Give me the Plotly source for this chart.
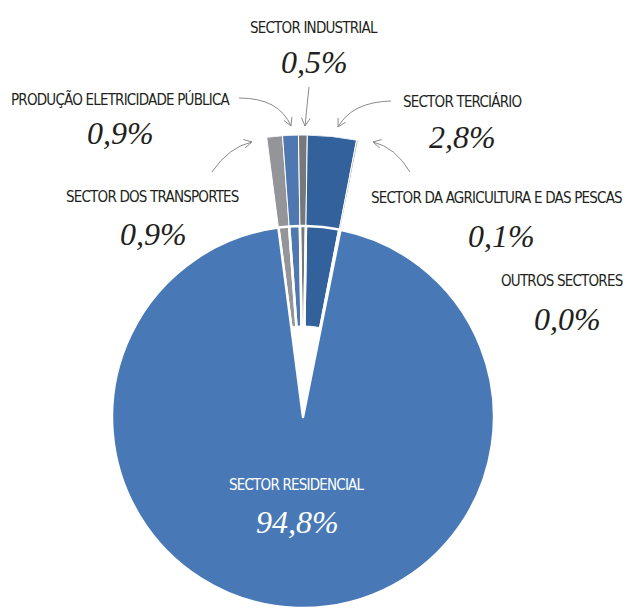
import math
import numpy as np
import plotly.graph_objects as go

# ---------------- data ----------------
categories = [
    "SECTOR DOS TRANSPORTES",
    "PRODUÇÃO ELETRICIDADE PÚBLICA",
    "SECTOR INDUSTRIAL",
    "SECTOR TERCIÁRIO",
    "SECTOR DA AGRICULTURA E DAS PESCAS",
    "OUTROS SECTORES",
    "SECTOR RESIDENCIAL",
]
values = [0.9, 0.9, 0.5, 2.8, 0.1, 0.0, 94.8]

# ---------------- style ----------------
W, H = 632, 610
OX, OY = 8, 8              # page (body) margin offset of the figure in the window
CX, CY = 303, 417          # pie centre (window px)
R = 191                    # pie radius (px)
PULL = 91                  # explode distance of small slices (px)
START = -7.4               # angle where the first slice starts (deg, clockwise from top)

colors = ["#939598", "#5078b0", "#77787b", "#33619b", "#b3b4b6", "#cfd0d2", "#4879b6"]
LABEL_FONT = "DejaVu Sans Condensed, DejaVu Sans, sans-serif"
PCT_FONT = "Liberation Serif, DejaVu Serif, serif"
TXT = "#231f20"
LABEL_SIZE = 15
PCT_SIZE = 32

# label positions (window px, centre of text)
label_pos = {
    "SECTOR DOS TRANSPORTES": ((152, 197), (153, 234)),
    "PRODUÇÃO ELETRICIDADE PÚBLICA": ((121, 99), (120, 133)),
    "SECTOR INDUSTRIAL": ((314, 28), (314, 62)),
    "SECTOR TERCIÁRIO": ((462, 102), (462, 137)),
    "SECTOR DA AGRICULTURA E DAS PESCAS": ((496, 198), (501, 236)),
    "OUTROS SECTORES": ((562, 281), (567, 319)),
    "SECTOR RESIDENCIAL": ((297, 485), (297, 522)),
}


def px(x, y):
    return (x - OX) / W, 1 - (y - OY) / H


fig = go.Figure()

# big pie: only the residential slice is visible
fcx, fcy = CX - OX, CY - OY
pie_colors = ["rgba(0,0,0,0)"] * (len(values) - 1) + [colors[-1]]
fig.add_trace(go.Pie(
    labels=categories, values=values, sort=False, direction="clockwise",
    rotation=START, textinfo="none", hoverinfo="label+percent",
    marker=dict(colors=pie_colors, line=dict(color="white", width=2.5)),
    domain=dict(x=[(fcx - R) / W, (fcx + R) / W], y=[(H - fcy - R) / H, (H - fcy + R) / H]),
    showlegend=False,
))

# exploded small slices drawn on a polar sector
total = sum(values)
small_vals = np.array(values[:-1])
widths = small_vals / total * 360.0
starts = START + np.concatenate([[0], np.cumsum(widths)[:-1]])
thetas = starts + widths / 2
rmax = (R + PULL) / R
fig.add_trace(go.Barpolar(
    theta=thetas, width=widths, r=[1.0] * len(small_vals), base=[PULL / R] * len(small_vals),
    marker=dict(color=colors[:-1], line=dict(color="white", width=1)),
    hovertext=categories[:-1], hoverinfo="text", showlegend=False,
))

s0, s1 = 75, 101
ax0, ax1 = math.cos(math.radians(s1)), math.cos(math.radians(s0))
bx0, bx1 = min(ax0, ax1, 0), max(ax0, ax1, 0)
Rout = R + PULL
fig.update_layout(polar=dict(
    sector=[s0, s1],
    domain=dict(x=[(fcx + bx0 * Rout) / W, (fcx + bx1 * Rout) / W],
                y=[(H - fcy) / H, (H - fcy + Rout) / H]),
    bgcolor="rgba(0,0,0,0)",
    radialaxis=dict(range=[0, rmax], visible=False, showgrid=False),
    angularaxis=dict(rotation=90, direction="clockwise", visible=False, showgrid=False),
))

# annotations
annotations = []
for cat, v in zip(categories, values):
    (lx, ly), (vx, vy) = label_pos[cat]
    col = "white" if cat == "SECTOR RESIDENCIAL" else TXT
    x, y = px(lx, ly)
    annotations.append(dict(x=x, y=y, xref="paper", yref="paper",
                            text=f"<span style='letter-spacing:-0.8px'>{cat}</span>",
                            showarrow=False, xanchor="center", yanchor="middle",
                            font=dict(family=LABEL_FONT, size=LABEL_SIZE, color=col)))
    x, y = px(vx, vy)
    pct = f"{v:.1f}".replace(".", ",") + "%"
    annotations.append(dict(x=x, y=y, xref="paper", yref="paper", text=f"<i>{pct}</i>", showarrow=False,
                            xanchor="center", yanchor="middle",
                            font=dict(family=PCT_FONT, size=PCT_SIZE, color=col)))

# curved arrows (start, control, end) in window px
arrows = [
    ((239, 98), (279, 98), (291, 126)),
    ((309, 87), (307, 106), (305, 126)),
    ((391, 101), (352, 102), (338, 127)),
    ((212, 172), (229, 147), (252, 142)),
    ((410, 172), (395, 147), (373, 142)),
]
shapes = []
for (p0, c, p1) in arrows:
    dx, dy = p1[0] - c[0], p1[1] - c[1]
    ang = math.atan2(dy, dx)
    L = 9
    h1 = (p1[0] - L * math.cos(ang - 0.5), p1[1] - L * math.sin(ang - 0.5))
    h2 = (p1[0] - L * math.cos(ang + 0.5), p1[1] - L * math.sin(ang + 0.5))

    def f(p):
        x, y = px(*p)
        return f"{x:.5f},{y:.5f}"
    path = f"M {f(p0)} Q {f(c)} {f(p1)} M {f(h1)} L {f(p1)} L {f(h2)}"
    shapes.append(dict(type="path", xref="paper", yref="paper", path=path,
                       line=dict(color="#8a8a8a", width=1)))

fig.update_layout(
    width=W, height=H, margin=dict(l=0, r=0, t=0, b=0),
    paper_bgcolor="white", plot_bgcolor="white",
    annotations=annotations, shapes=shapes, showlegend=False,
)

fig.write_html("out.html")
